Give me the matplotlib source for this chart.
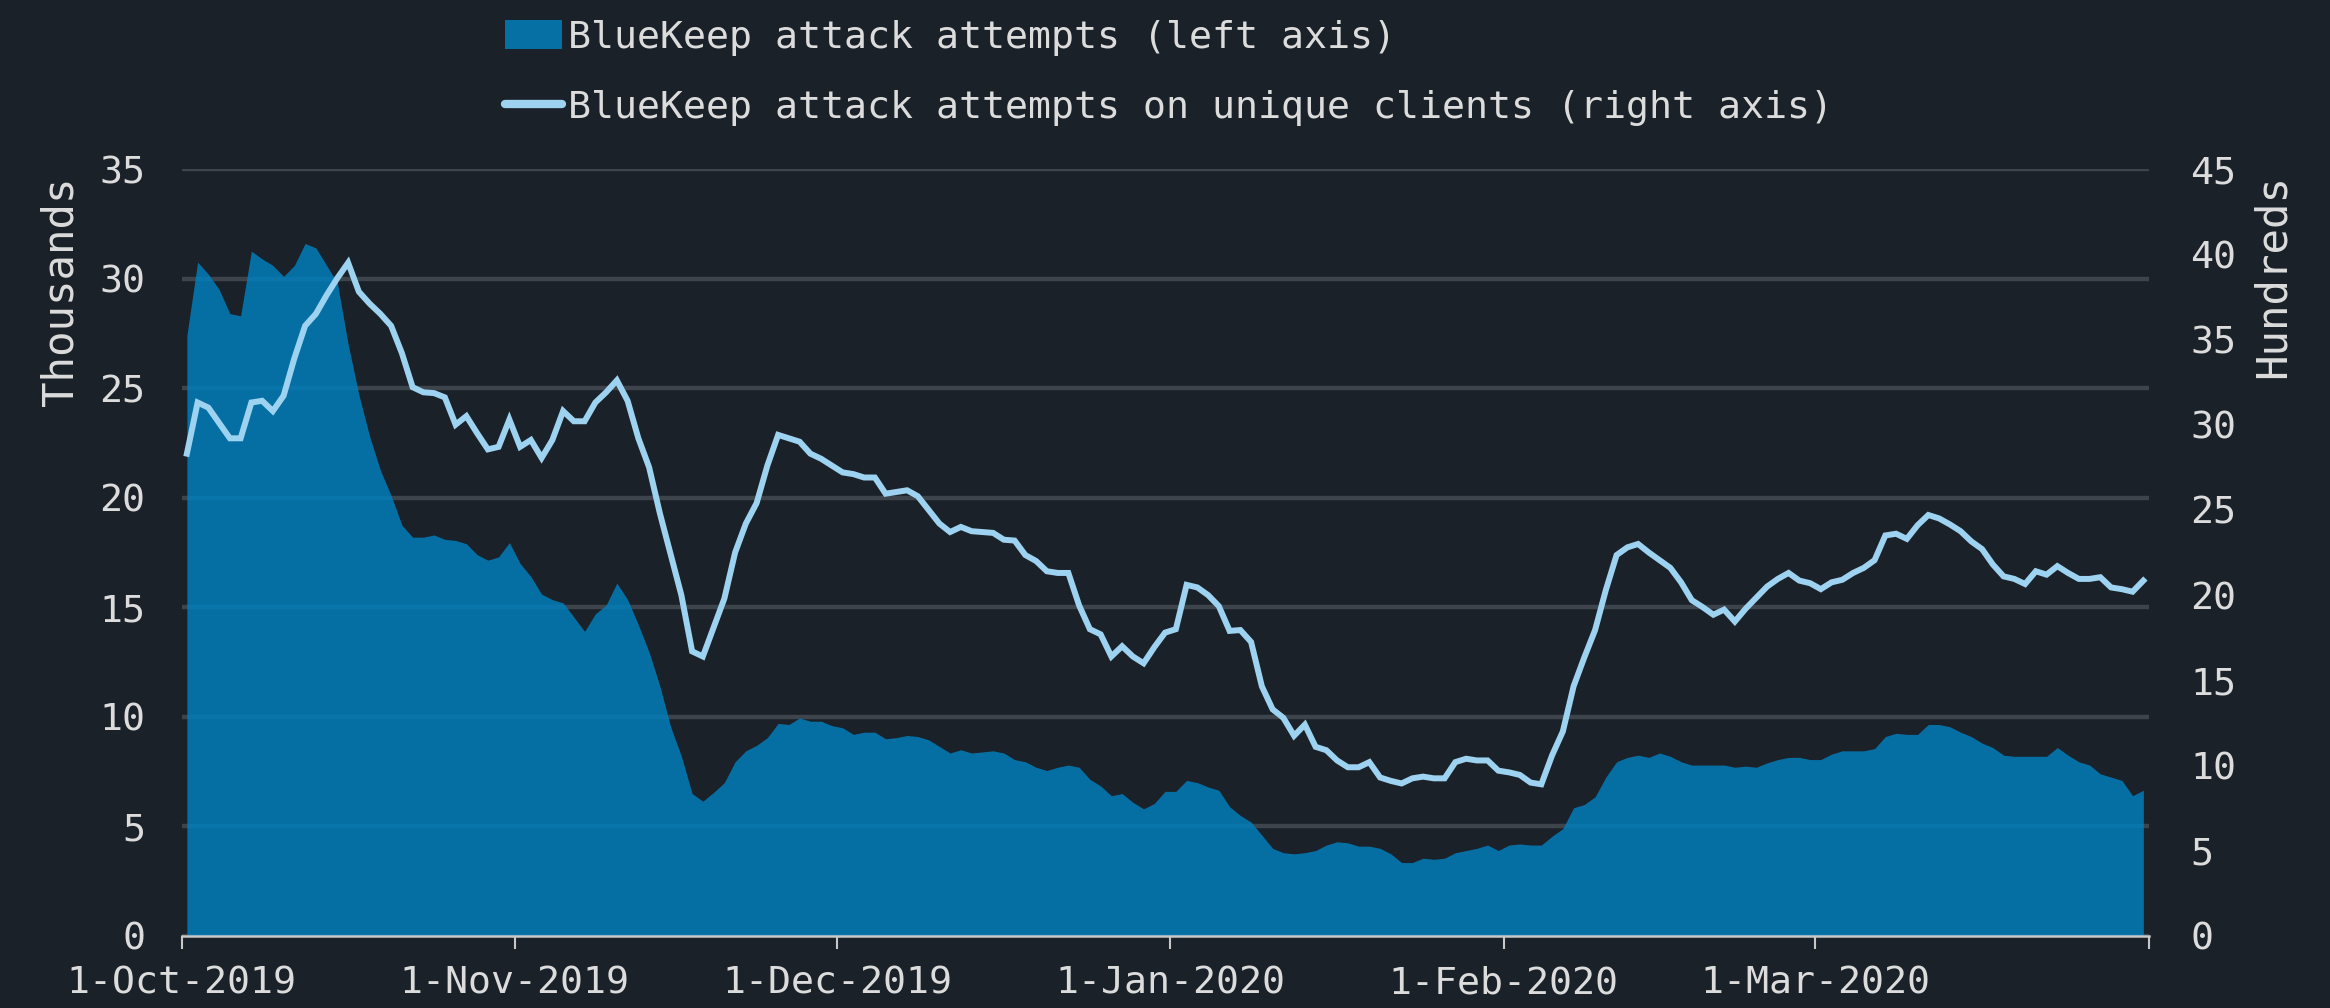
import numpy as np
import pandas as pd
import matplotlib
matplotlib.use('Agg')
from matplotlib import pyplot as plt
import matplotlib.dates as mdates
from matplotlib.lines import Line2D
from matplotlib.patches import Patch

# daily values, 1-Oct-2019 .. 31-Mar-2020
attempts = [27.4, 30.75, 30.2, 29.5, 28.4, 28.3, 31.25, 30.9, 30.6, 30.1, 30.6, 31.6, 31.4, 30.6, 29.8,
            27.0, 24.7, 22.8, 21.25, 20.1, 18.75, 18.2, 18.2, 18.3, 18.1, 18.05, 17.9, 17.4, 17.15, 17.3, 17.95,
            17.0, 16.4, 15.6, 15.35, 15.2, 14.55, 13.9, 14.7, 15.1, 16.1, 15.35, 14.2, 12.95, 11.4, 9.55,
            8.2, 6.5, 6.15, 6.55, 7.0, 7.95, 8.45, 8.7, 9.05, 9.7, 9.65, 9.95, 9.8, 9.8, 9.6, 9.5,
            9.2, 9.3, 9.3, 9.0, 9.05, 9.15, 9.1, 8.95, 8.65, 8.35, 8.5, 8.35, 8.4, 8.45, 8.35,
            8.05, 7.95, 7.7, 7.55, 7.7, 7.8, 7.7, 7.15, 6.85, 6.4, 6.5, 6.1, 5.8, 6.05, 6.6,
            6.6, 7.1, 7.0, 6.8, 6.65, 5.9, 5.5, 5.2, 4.6, 4.0, 3.8, 3.75, 3.8, 3.9, 4.15, 4.3,
            4.25, 4.1, 4.1, 4.0, 3.75, 3.35, 3.35, 3.55, 3.5, 3.55, 3.8, 3.9, 4.0, 4.15, 3.9,
            4.15, 4.2, 4.15, 4.15, 4.55, 4.9, 5.85, 6.0, 6.35, 7.25, 7.95, 8.15, 8.25, 8.15, 8.35,
            8.2, 7.95, 7.8, 7.8, 7.8, 7.8, 7.7, 7.75, 7.7, 7.9, 8.05, 8.15, 8.15, 8.05, 8.05, 8.3,
            8.45, 8.45, 8.45, 8.55, 9.1, 9.25, 9.2, 9.2, 9.65, 9.65, 9.55, 9.3, 9.1, 8.8, 8.6,
            8.25, 8.2, 8.2, 8.2, 8.2, 8.6, 8.25, 7.95, 7.8, 7.4, 7.25, 7.1, 6.4, 6.65]

unique_clients = [28.3, 31.3, 31.0, 30.1, 29.2, 29.2, 31.3, 31.4, 30.8, 31.7, 33.9, 35.8, 36.5, 37.6, 38.6,
                  39.5, 37.8, 37.1, 36.5, 35.8, 34.2, 32.2, 31.9, 31.85, 31.6, 30.0, 30.5, 29.5, 28.55, 28.7, 30.3,
                  28.7, 29.1, 28.05, 29.1, 30.8, 30.2, 30.2, 31.3, 31.9, 32.6, 31.4, 29.2, 27.5, 24.8, 22.4,
                  20.0, 16.7, 16.4, 18.1, 19.8, 22.5, 24.2, 25.4, 27.6, 29.4, 29.2, 29.0, 28.3, 28.0, 27.6, 27.2,
                  27.1, 26.9, 26.9, 25.95, 26.05, 26.15, 25.8, 25.0, 24.2, 23.7, 24.0, 23.75, 23.7, 23.65, 23.25,
                  23.2, 22.35, 22.0, 21.4, 21.3, 21.3, 19.4, 18.0, 17.7, 16.4, 17.0, 16.4, 16.0, 16.95, 17.8,
                  18.0, 20.6, 20.45, 20.0, 19.35, 17.9, 17.95, 17.25, 14.65, 13.3, 12.8, 11.75, 12.4, 11.1, 10.9,
                  10.3, 9.9, 9.9, 10.2, 9.3, 9.1, 8.95, 9.25, 9.35, 9.25, 9.25, 10.2, 10.4, 10.3, 10.3, 9.7,
                  9.6, 9.45, 9.0, 8.9, 10.6, 12.0, 14.65, 16.35, 17.95, 20.3, 22.35, 22.8, 23.0, 22.5, 22.05,
                  21.6, 20.75, 19.7, 19.3, 18.85, 19.15, 18.45, 19.2, 19.85, 20.5, 20.95, 21.3, 20.85, 20.7, 20.35, 20.75,
                  20.9, 21.3, 21.6, 22.05, 23.5, 23.6, 23.3, 24.1, 24.7, 24.5, 24.15, 23.75, 23.15, 22.7, 21.8,
                  21.1, 20.95, 20.65, 21.4, 21.2, 21.7, 21.3, 20.95, 20.95, 21.05, 20.45, 20.35, 20.2, 20.85]

# points sit mid-day
dates = pd.date_range('2019-10-01 12:00', periods=len(attempts), freq='D')
month_ticks = pd.date_range('2019-10-01', '2020-04-01', freq='MS')
tick_labels = ['1-Oct-2019', '1-Nov-2019', '1-Dec-2019', '1-Jan-2020', '1-Feb-2020', '1-Mar-2020', '']

left_label = 'Thousands'
right_label = 'Hundreds'
area_name = 'BlueKeep attack attempts (left axis)'
line_name = 'BlueKeep attack attempts on unique clients (right axis)'

BG = '#1b2129'
AREA = '#027ebb'
LINE = '#9dd3f0'
GRID = '#3d444c'
TXT = '#dcdcdc'
FS = 27.5

plt.rcParams['font.family'] = ['DejaVu Sans Mono', 'DejaVu Sans']

fig = plt.figure(figsize=(23.3, 10.08), dpi=100, facecolor=BG)
ax = fig.add_axes([181.5/2330, 1-936/1008, (2148.7-181.5)/2330, (936-169)/1008])
ax.set_facecolor(BG)

ax.fill_between(dates, attempts, 0, color=AREA, alpha=0.85, lw=0, zorder=2)
ax.set_ylim(0, 35)
ax.set_yticks(np.arange(0, 36, 5))
ax.set_xlim(pd.Timestamp('2019-10-01'), pd.Timestamp('2020-04-01'))
ax.set_xticks(month_ticks)
ax.set_xticklabels(tick_labels)
ax.yaxis.grid(True, color=GRID, lw=3.2, zorder=1)
ax.set_axisbelow(True)
for s in ['top', 'left', 'right']:
    ax.spines[s].set_visible(False)
ax.spines['bottom'].set_color('#c8c8c8')
ax.spines['bottom'].set_linewidth(1.8)
ax.tick_params(axis='x', colors='#c8c8c8', length=9, width=1.5, pad=12, labelsize=FS, labelcolor=TXT)
ax.tick_params(axis='y', length=0, pad=26, labelsize=FS, labelcolor=TXT)

ax2 = ax.twinx()
ax2.plot(dates, unique_clients, color=LINE, lw=4.3, solid_joinstyle='miter', zorder=3)
ax2.set_ylim(0, 45)
ax2.set_yticks(np.arange(0, 46, 5))
for s in ['top', 'left', 'right', 'bottom']:
    ax2.spines[s].set_visible(False)
ax2.tick_params(axis='y', length=0, pad=30, labelsize=FS, labelcolor=TXT)

fig.text(60/2330, 1-176/1008, left_label, rotation=90, ha='center', va='top', fontsize=30.5, color=TXT)
fig.text(2273/2330, 1-174/1008, right_label, rotation=90, ha='center', va='top', fontsize=30.5, color=TXT)

handles = [Patch(facecolor='#0670a5', edgecolor='none'),
           Line2D([0], [0], color=LINE, lw=6, solid_capstyle='round')]
leg = fig.legend(handles, [area_name, line_name], loc='upper left',
                 bbox_to_anchor=(505/2330, 1-20/1008), frameon=False, fontsize=FS,
                 handlelength=1.5, handleheight=0.8, handletextpad=0.15, labelspacing=0.88,
                 borderpad=0, borderaxespad=0)
for t in leg.get_texts():
    t.set_color(TXT)

fig.savefig('out.png', dpi=100, facecolor=BG)
